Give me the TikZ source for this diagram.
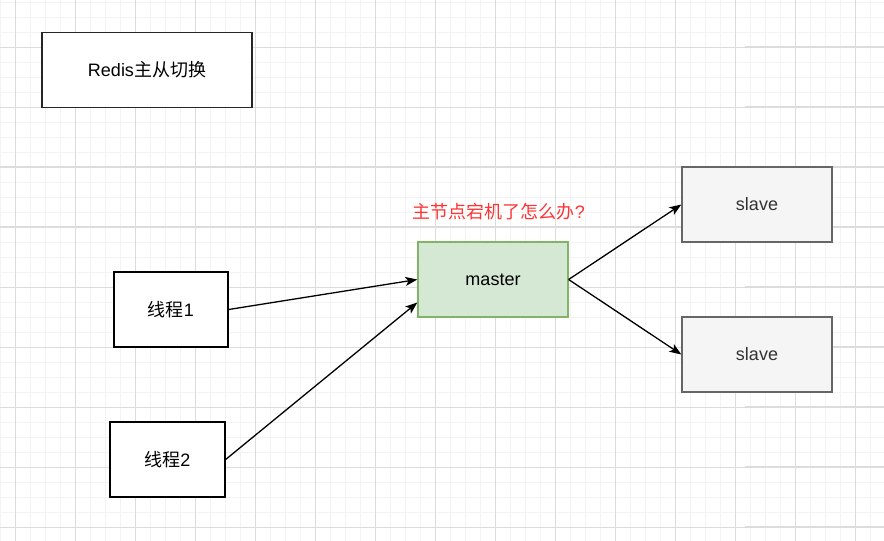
\documentclass[tikz,border=0pt]{standalone}
\usepackage{fontspec}
\setmainfont{Liberation Sans}
\newfontfamily\cjk{Noto Sans CJK SC}
\usetikzlibrary{arrows.meta}

\definecolor{gridminor}{HTML}{F3F3F3}
\definecolor{gridmajor}{HTML}{DCDCDC}
\definecolor{masterfill}{HTML}{D5E8D4}
\definecolor{masterline}{HTML}{82B366}
\definecolor{slavefill}{HTML}{F5F5F5}
\definecolor{slaveline}{HTML}{666666}
\definecolor{slavetext}{HTML}{333333}
\definecolor{warnred}{HTML}{FF3333}

\begin{document}
\begin{tikzpicture}[x=1pt,y=-1pt,
  minorline/.style={gridminor, line width=1pt},
  majorline/.style={gridmajor, line width=1pt},
  pageline/.style={gridmajor, line width=2pt},
  box/.style={draw=black, line width=1.3pt, fill=white, inner sep=0pt,
    minimum width=#1, minimum height=75pt, font=\fontsize{18}{20}\selectfont},
  box/.default=114pt,
  masterbox/.style={box=150pt, draw=masterline, fill=masterfill},
  slavebox/.style={box=150pt, draw=slaveline, fill=slavefill, text=slavetext},
  link/.style={line width=1.3pt, -{Stealth[length=12pt,width=9pt,inset=3pt]}}]
\useasboundingbox (0,0) rectangle (884,541);
\fill[white] (0,0) rectangle (884,541);

% grid
\foreach \x in {0,15,...,884} \draw[minorline] (\x,0) -- (\x,541);
\foreach \y in {2,17,...,541} \draw[minorline] (0,\y) -- (884,\y);
\foreach \x in {15,75,...,884} \draw[majorline] (\x,0) -- (\x,541);
\foreach \y in {47,107,...,541} \draw[majorline] (0,\y) -- (884,\y);
\draw[pageline] (0,167) -- (884,167);
\draw[pageline] (0,227) -- (884,227);
\foreach \y in {47,107,...,541} \draw[pageline] (745,\y) -- (884,\y);

\node[box=210pt, draw=black!85] (title) at (147,70) {Redis{\cjk 主从切换}};

\node[box] (thread1) at (171,309.5) {{\cjk 线程}1};
\node[box=115pt] (thread2) at (167.5,459.5) {{\cjk 线程}2};

\node[masterbox] (master) at (493,279.5) {master};
\node[slavebox] (slave1) at (757,204.5) {slave};
\node[slavebox] (slave2) at (757,354.5) {slave};

\node[text=warnred, font=\fontsize{18}{20}\selectfont, anchor=center] (question) at (499,212) {{\cjk 主节点宕机了怎么办}?};

\draw[link] (thread1.east) -- (master.west);
\draw[link] (thread2.east) -- ([yshift=-23pt]master.west);
\draw[link] (master.east) -- (slave1.west);
\draw[link] (master.east) -- (slave2.west);

\end{tikzpicture}
\end{document}
